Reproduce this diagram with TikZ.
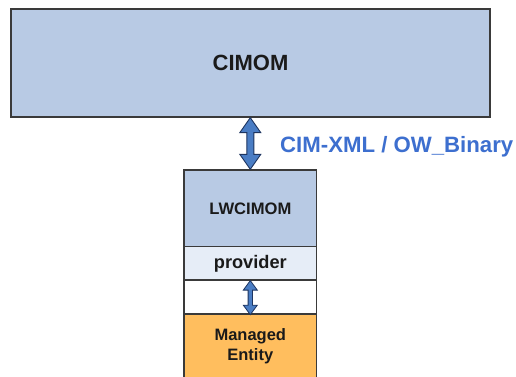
\documentclass[tikz,border=0pt]{standalone}
\usepackage{fontspec}
\setmainfont{Liberation Sans}
\usetikzlibrary{calc}
\definecolor{boxblue}{HTML}{B8CAE4}
\definecolor{provblue}{HTML}{E6EDF7}
\definecolor{mgorange}{HTML}{FFBE5E}
\definecolor{arrblue}{HTML}{4A7DC4}
\definecolor{arredge}{HTML}{1E3560}
\definecolor{lblblue}{HTML}{3D6FCF}
\definecolor{edgegray}{HTML}{3A3A3A}
\definecolor{txt}{HTML}{1A1A1A}
\tikzset{
  box/.style={draw=edgegray, line width=1.3pt, rectangle, inner sep=0pt, text=txt, font=\bfseries, align=center},
  blockarr/.style={fill=arrblue, draw=arredge, line width=0.9pt, line join=miter}
}
\begin{document}
\begin{tikzpicture}[x=1pt, y=-1pt]
\useasboundingbox (0,0) rectangle (516,376);
\fill[white] (0,0) rectangle (516,376);
\clip (0,0) rectangle (516,376);
\node[box, fill=boxblue, minimum width=479pt, minimum height=108pt, font=\bfseries\fontsize{22}{26}\selectfont] (cimom) at (250.5,63) {CIMOM};
\node[box, fill=boxblue, minimum width=132.7pt, minimum height=76.7pt, font=\bfseries\fontsize{16.6}{20}\selectfont] (lw) at (250.3,208.3) {LWCIMOM};
\node[box, fill=provblue, minimum width=132.7pt, minimum height=33.3pt, font=\bfseries\fontsize{18.2}{20}\selectfont] (prov) at (250.3,263.3) {provider};
\node[box, fill=white, minimum width=132.7pt, minimum height=34pt] (gap) at (250.3,297) {};
\node[box, fill=mgorange, minimum width=132.7pt, minimum height=90pt, font=\bfseries\fontsize{16.5}{20}\selectfont] (me) at (250.3,359) {};
\node[text=txt, font=\bfseries\fontsize{16.5}{20}\selectfont, align=center] (metxt) at (250.3,346.5) {Managed\\Entity};
% arrow 1
\coordinate (t1) at (cimom.south -| lw.north);
\coordinate (b1) at (lw.north);
\draw[blockarr] (t1) -- ++(10.5,15) -- ++(-7,0) -- ($(b1)+(3.5,-15)$) -- ++(7,0) -- (b1) -- ++(-10.5,-15) -- ++(7,0) -- ($(t1)+(-3.5,15)$) -- ++(-7,0) -- cycle;
% arrow 2
\coordinate (t2) at (prov.south);
\coordinate (b2) at (gap.south);
\draw[blockarr, line width=0.8pt] (t2) -- ++(7,9.5) -- ++(-4.8,0) -- ($(b2)+(2.2,-9.5)$) -- ++(4.8,0) -- (b2) -- ++(-7,-9.5) -- ++(4.8,0) -- ($(t2)+(-2.2,9.5)$) -- ++(-4.8,0) -- cycle;
\node[anchor=west, text=lblblue, font=\bfseries\fontsize{22.2}{26}\selectfont, inner sep=0pt] (lbl) at (280,146.5) {CIM-XML / OW\_Binary};
\end{tikzpicture}
\end{document}
